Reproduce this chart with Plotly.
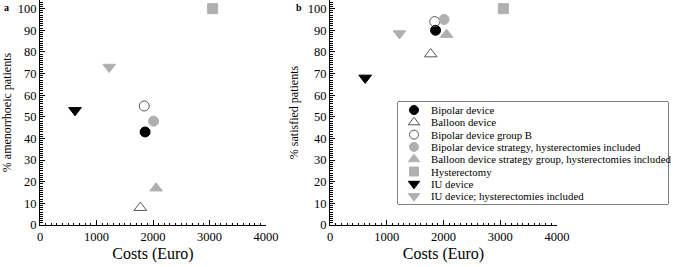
import plotly.graph_objects as go

series = ["Bipolar device", "Balloon device", "Bipolar device group B",
          "Bipolar device strategy, hysterectomies included",
          "Balloon device strategy group, hysterectomies included",
          "Hysterectomy", "IU device", "IU device; hysterectomies included"]
costs = [1860, 1775, 1845, 2010, 2055, 3055, 620, 1225]
amenorrhoeic = [43, 8, 55, 48, 17, 100, 53, 73]
satisfied = [90, 79, 94, 95, 88, 100, 68, 88.5]

symbols = ["circle", "triangle-up-open", "circle-open", "circle", "triangle-up",
           "square", "triangle-down", "triangle-down"]
GRAY = "#b0b0b0"
colors = ["black", "#555555", "#555555", GRAY, GRAY, GRAY, "black", GRAY]
sizes = [10, 11, 10, 10, 11, 10, 11, 11]

FONT = "Liberation Serif"
W, H = 685, 267
fig = go.Figure()
for i, name in enumerate(series):
    mk = dict(symbol=symbols[i], color=colors[i], size=sizes[i], opacity=1,
              line=dict(width=1, color=colors[i]))
    fig.add_trace(go.Scatter(x=[costs[i]], y=[amenorrhoeic[i]], mode="markers",
                             marker=mk, name=name, showlegend=False,
                             xaxis="x", yaxis="y"))
    fig.add_trace(go.Scatter(x=[costs[i]], y=[satisfied[i]], mode="markers",
                             marker=mk, name=name, showlegend=False,
                             xaxis="x2", yaxis="y2"))

# manual legend (marker column + labels) on a helper axis in pixel-like units
LX0, LX1, LY0, LY1 = 398, 668, 102, 204
row_y = [LY0 + 8 + 12.3 * i for i in range(len(series))]
fig.add_trace(go.Scatter(
    x=[16] * len(series), y=row_y, mode="markers", showlegend=False, hoverinfo="skip",
    marker=dict(symbol=symbols, color=colors, size=[s - 1 for s in sizes], opacity=1,
                line=dict(width=1, color=colors)),
    xaxis="x3", yaxis="y3"))

annotations = []
for i, name in enumerate(series):
    annotations.append(dict(text=name, x=31, y=row_y[i], xref="x3", yref="y3",
                            xanchor="left", yanchor="middle", showarrow=False,
                            font=dict(family=FONT, size=10.8, color="black")))
annotations += [
    dict(text="<b>a</b>", x=2 / W, y=1, xref="paper", yref="paper", xanchor="left",
         yanchor="top", showarrow=False, font=dict(family=FONT, size=10, color="black")),
    dict(text="<b>b</b>", x=294 / W, y=1, xref="paper", yref="paper", xanchor="left",
         yanchor="top", showarrow=False, font=dict(family=FONT, size=10, color="black")),
]

xax = dict(range=[0, 4000], tickvals=[0, 1000, 2000, 3000, 4000], ticks="inside",
           ticklen=5, tickcolor="black", showline=True, linecolor="black", linewidth=1,
           showgrid=False, zeroline=False,
           minor=dict(dtick=100, ticks="inside", ticklen=2.5, tickcolor="black"),
           tickfont=dict(family=FONT, size=12.5, color="black"),
           title=dict(text="Costs (Euro)", font=dict(family=FONT, size=16, color="black"),
                      standoff=4))
yax = dict(range=[0, 104], tickvals=list(range(0, 101, 10)), ticks="inside",
           ticklen=5, tickcolor="black", showline=True, linecolor="black", linewidth=1,
           showgrid=False, zeroline=False,
           minor=dict(dtick=1, ticks="inside", ticklen=2.5, tickcolor="black"),
           tickfont=dict(family=FONT, size=12.5, color="black"))

ydom = [1 - 225 / H, 1]
fig.update_layout(
    width=W, height=H,
    margin=dict(l=0, r=0, t=0, b=0, autoexpand=False),
    plot_bgcolor="white", paper_bgcolor="white",
    showlegend=False,
    xaxis=dict(xax, domain=[40 / W, 266 / W], anchor="y"),
    yaxis=dict(yax, domain=ydom, anchor="x",
               title=dict(text="% amenorrhoeic patients",
                          font=dict(family=FONT, size=12, color="black"), standoff=6)),
    xaxis2=dict(xax, domain=[330 / W, 557 / W], anchor="y2"),
    yaxis2=dict(yax, domain=ydom, anchor="x2",
                title=dict(text="% satisfied patients",
                           font=dict(family=FONT, size=12, color="black"), standoff=6)),
    xaxis3=dict(domain=[LX0 / W, LX1 / W], range=[0, LX1 - LX0], visible=False,
                fixedrange=True, anchor="y3"),
    yaxis3=dict(domain=[1 - LY1 / H, 1 - LY0 / H], range=[LY1, LY0], visible=False,
                fixedrange=True, anchor="x3"),
    shapes=[dict(type="rect", xref="paper", yref="paper",
                 x0=LX0 / W, x1=LX1 / W, y0=1 - LY1 / H, y1=1 - LY0 / H,
                 line=dict(color="black", width=1), fillcolor="white", layer="below")],
    annotations=annotations,
)
fig.write_html("out.html", config={"displayModeBar": False},
               post_script="document.body.style.margin='0';document.body.style.padding='0';")
